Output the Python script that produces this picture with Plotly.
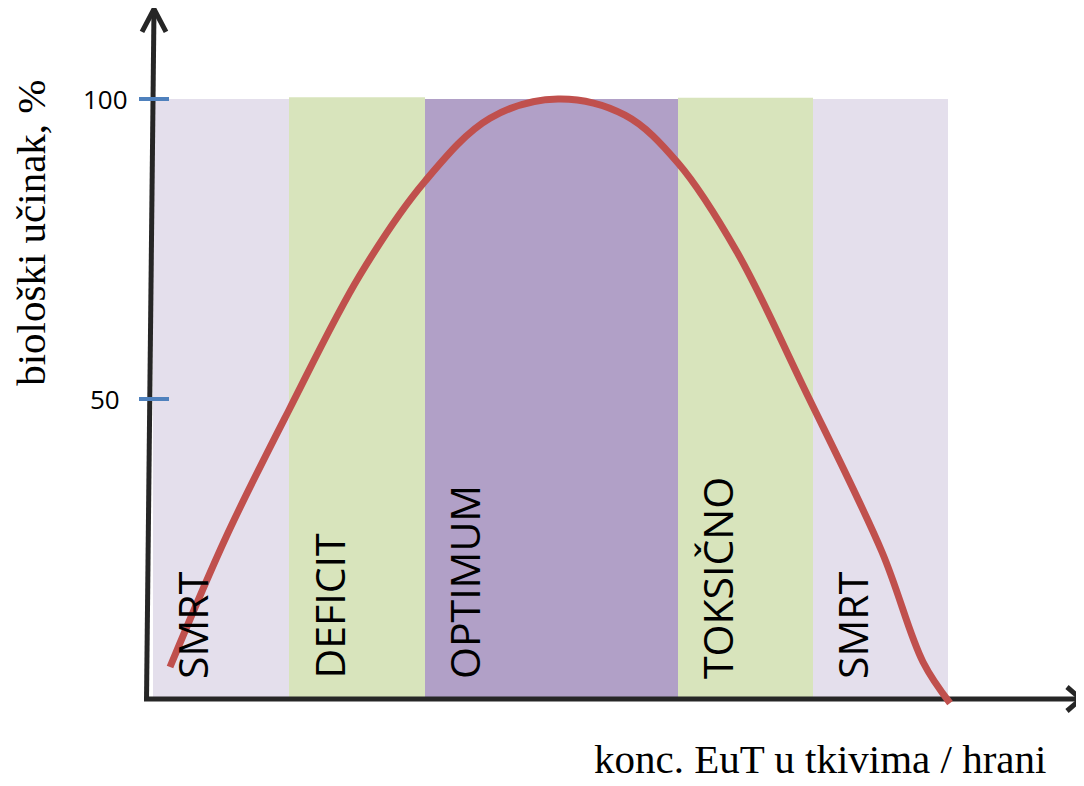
import plotly.graph_objects as go

# ---- data ----
zone_labels = ["SMRT", "DEFICIT", "OPTIMUM", "TOKSIČNO", "SMRT"]
zone_edges = [0.6, 14.2, 27.8, 53.1, 66.6, 80.1]
zone_tops = [100.0, 100.3, 100.0, 100.2, 100.0]
zone_colors = ["#E4DFEC", "#D8E4BC", "#B1A0C7", "#D8E4BC", "#E4DFEC"]

curve_x = [2.3, 8.0, 14.2, 21.3, 27.8, 34.3, 41.1, 47.8, 53.1, 59.0, 65.6, 73.5, 77.6, 80.3]
curve_y = [5.33, 27.33, 48.17, 70.67, 86.3, 96.8, 100.0, 97.3, 89.33, 74.5, 52.17, 24.5, 6.17, -0.67]

tick_vals = [50, 100]
tick_text = ["50", "100"]

x_title = "konc. EuT u tkivima / hrani"
y_title = "biološki učinak, %"

# ---- figure ----
fig = go.Figure()

shapes = []
for i, lab in enumerate(zone_labels):
    shapes.append(dict(type="rect", xref="x", yref="y",
                       x0=zone_edges[i], x1=zone_edges[i + 1], y0=0, y1=zone_tops[i],
                       fillcolor=zone_colors[i], line=dict(width=0), layer="below"))

axis_col = "#262626"
# y axis (slightly tilted) with open arrow head
shapes.append(dict(type="line", xref="x", yref="y", x0=-0.05, y0=-0.3, x1=0.7, y1=115.0,
                   line=dict(color=axis_col, width=5), layer="below"))
shapes.append(dict(type="path", xref="x", yref="y",
                   path="M -0.5,111.2 L 0.7,115.0 L 1.9,111.2",
                   line=dict(color=axis_col, width=5), layer="below"))
# x axis with open arrow head
shapes.append(dict(type="line", xref="x", yref="y", x0=-0.3, y0=0, x1=93.4, y1=0,
                   line=dict(color=axis_col, width=5), layer="below"))
shapes.append(dict(type="path", xref="x", yref="y",
                   path="M 92.0,2.0 L 93.4,0 L 92.0,-2.0",
                   line=dict(color=axis_col, width=5), layer="below"))
# blue tick marks
for v in tick_vals:
    shapes.append(dict(type="line", xref="x", yref="y", x0=-0.8, x1=2.2, y0=v, y1=v,
                       line=dict(color="#4F81BD", width=4), layer="below"))

fig.add_trace(go.Scatter(x=curve_x, y=curve_y, mode="lines",
                         line=dict(color="#C0504D", width=7, shape="spline", smoothing=1.0),
                         hoverinfo="skip", showlegend=False))

annotations = []
label_font = dict(family="Open Sans", size=41, color="black")
for i, lab in enumerate(zone_labels):
    annotations.append(dict(x=zone_edges[i] + 3.9, y=3.0, xref="x", yref="y",
                            text=lab, textangle=-90, showarrow=False,
                            xanchor="center", yanchor="bottom", font=label_font))
for v, t in zip(tick_vals, tick_text):
    annotations.append(dict(x=-4.2, y=v, xref="x", yref="y", text=t, showarrow=False,
                            xanchor="center", yanchor="middle",
                            font=dict(family="Open Sans", size=26, color="black")))
annotations.append(dict(x=67.3, y=-10.0, xref="x", yref="y", text=x_title, showarrow=False,
                        xanchor="center", yanchor="middle",
                        font=dict(family="Liberation Serif", size=41, color="black")))
annotations.append(dict(x=-11.6, y=77.7, xref="x", yref="y", text=y_title, showarrow=False,
                        textangle=-90, xanchor="center", yanchor="middle",
                        font=dict(family="Liberation Serif", size=41, color="black")))

# the page body has an 8px margin, so the figure is 8px smaller and the ranges start 8px in
fig.update_layout(
    width=1076, height=778,
    margin=dict(l=0, r=0, t=0, b=0),
    paper_bgcolor="white", plot_bgcolor="white",
    xaxis=dict(range=[-13.9, 93.7], visible=False, fixedrange=True),
    yaxis=dict(range=[-14.5, 115.1667], visible=False, fixedrange=True),
    shapes=shapes, annotations=annotations, showlegend=False,
)

fig.write_html("out.html")
